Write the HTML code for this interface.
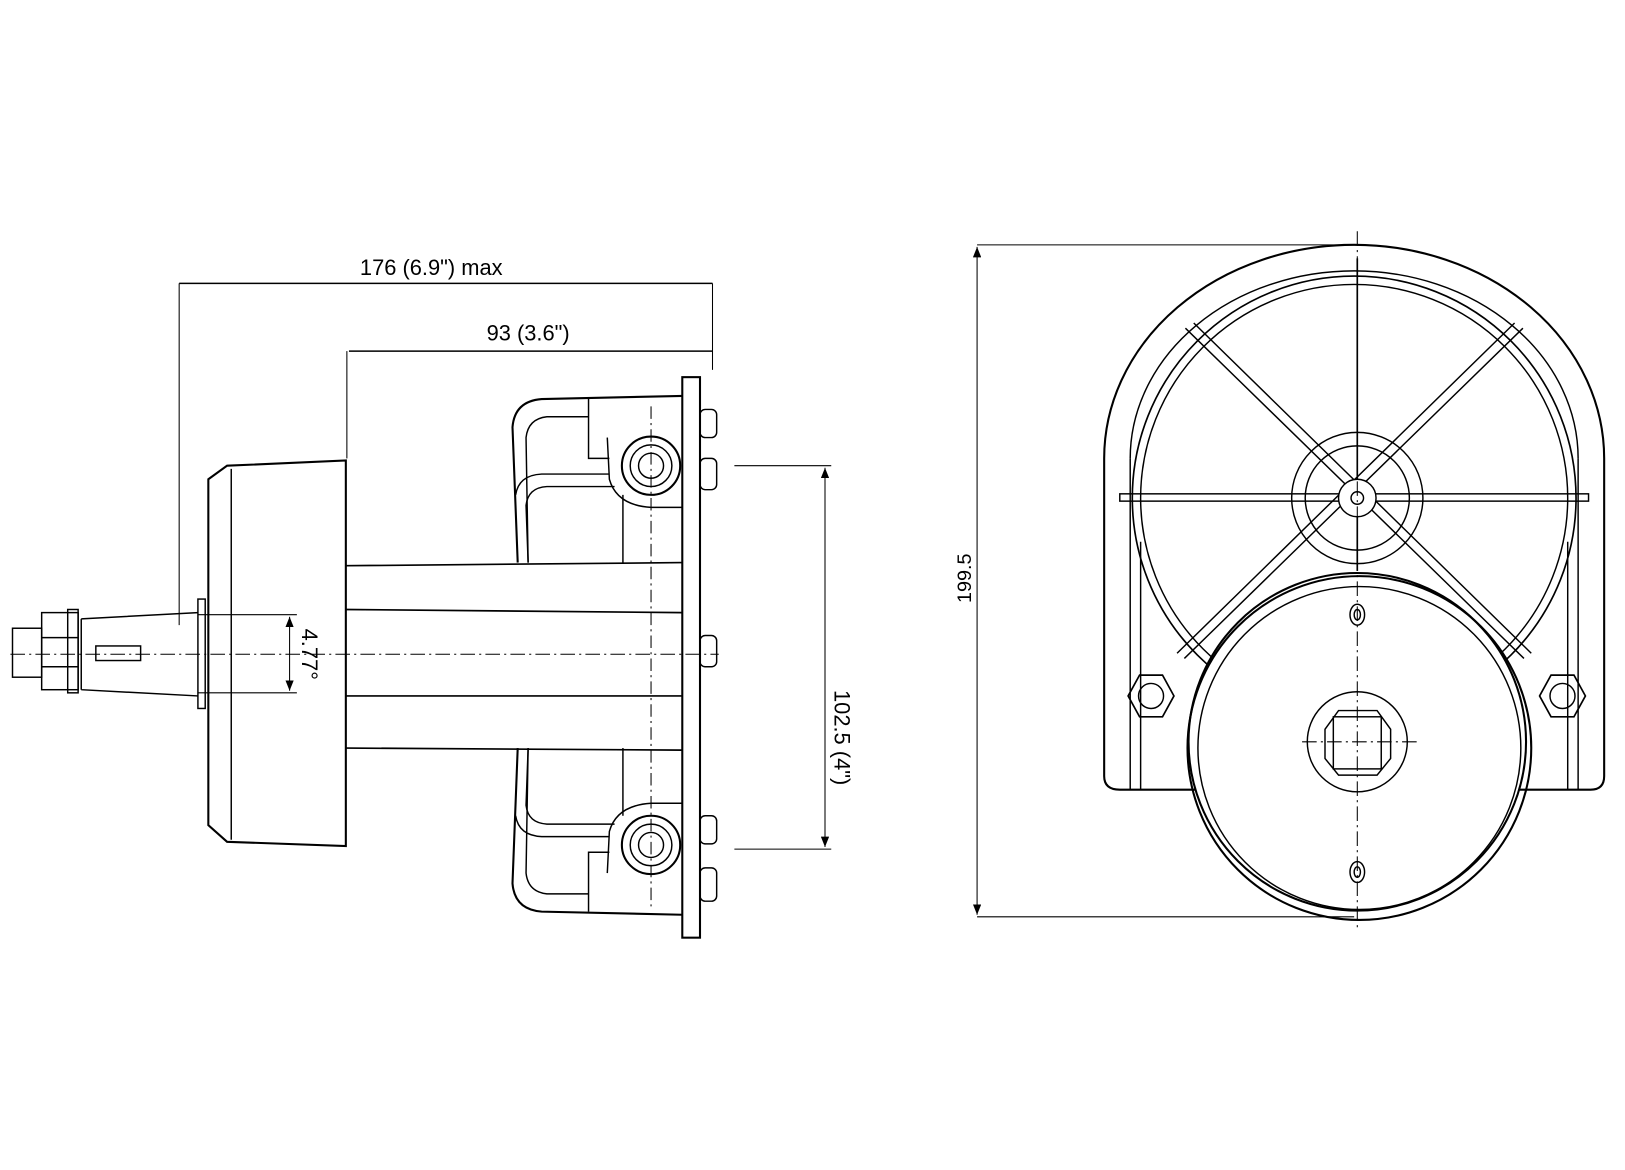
<!DOCTYPE html>
<html><head><style>html,body{margin:0;padding:0;background:#fff}svg{display:block}</style></head>
<body>
<svg width="1625" height="1170" viewBox="0 0 1560 1123" preserveAspectRatio="none" xmlns="http://www.w3.org/2000/svg" font-family="Liberation Sans, DejaVu Sans, sans-serif">
<defs>
<marker id="a" markerWidth="10" markerHeight="8" refX="10" refY="4" orient="auto-start-reverse" markerUnits="userSpaceOnUse"><path d="M0,0 L10,4 L0,8 z" fill="#000"/></marker>
</defs>
<g fill="none" stroke="#000" stroke-width="1.4">
<!-- dimensions left -->
<line x1="172" y1="272" x2="684" y2="272"/>
<line x1="172" y1="272" x2="172" y2="600" stroke-width="1"/>
<line x1="684" y1="272" x2="684" y2="355" stroke-width="1"/>
<line x1="335" y1="337" x2="684" y2="337"/>
<line x1="333" y1="337" x2="333" y2="440" stroke-width="1"/>
<!-- wheel hub -->
<path d="M200,460 L218,447 L332,442 L332,812 L218,808 L200,792 Z" stroke-width="2"/>
<line x1="222" y1="450" x2="222" y2="806"/>
<rect x="190" y="575" width="7" height="105"/>
<!-- shaft -->
<path d="M78,594 L190,588 M78,662 L190,668 M78,594 L78,662"/>
<rect x="92" y="620" width="43" height="14"/>
<rect x="40" y="588" width="35" height="74"/>
<rect x="65" y="585" width="10" height="80"/>
<rect x="12" y="603" width="28" height="47"/>
<line x1="40" y1="612" x2="75" y2="612"/><line x1="40" y1="640" x2="75" y2="640"/>
<line x1="10" y1="628" x2="690" y2="628" stroke-dasharray="14,4,2,4" stroke-width="1"/>
<!-- angle dim -->
<line x1="190" y1="590" x2="285" y2="590" stroke-width="1"/>
<line x1="190" y1="665" x2="285" y2="665" stroke-width="1"/>
<line x1="278" y1="592" x2="278" y2="663" marker-start="url(#a)" marker-end="url(#a)" stroke-width="1"/>
<!-- tube -->
<path d="M332,543 L655,540 M332,718 L655,720 M332,585 L655,588 M332,668 L655,668" stroke-width="1.6"/>
<!-- flange -->
<rect x="655" y="362" width="17" height="538" stroke-width="2"/>
<rect x="672" y="393" width="16" height="27" rx="5"/>
<rect x="672" y="440" width="16" height="30" rx="5"/>
<rect x="672" y="610" width="16" height="30" rx="5"/>
<rect x="672" y="783" width="16" height="27" rx="5"/>
<rect x="672" y="833" width="16" height="32" rx="5"/>
<!-- upper bracket -->
<g id="br">
<path d="M497,540 L492,410 Q494,385 520,383 L655,380" stroke-width="2"/>
<path d="M507,540 L505,420 Q507,402 525,400 L565,400"/>
<path d="M495,475 Q498,456 520,455 L585,455"/>
<path d="M507,540 L505,485 Q507,468 525,467 L590,467"/>
<path d="M565,383 L565,440 L585,440"/>
<path d="M598,475 L598,540"/>
<circle cx="625" cy="447" r="28" stroke-width="2"/>
<circle cx="625" cy="447" r="20"/>
<circle cx="625" cy="447" r="12"/>
<path d="M583,420 L585,460 Q592,485 625,487 L655,487"/>
</g>
<use href="#br" transform="translate(0,1258) scale(1,-1)"/>
<line x1="625" y1="390" x2="625" y2="870" stroke-dasharray="12,4,2,4" stroke-width="1"/>
<!-- dim 102.5 -->
<line x1="705" y1="447" x2="798" y2="447" stroke-width="1"/>
<line x1="705" y1="815" x2="798" y2="815" stroke-width="1"/>
<line x1="792" y1="449" x2="792" y2="813" marker-start="url(#a)" marker-end="url(#a)" stroke-width="1"/>

<!-- right view -->
<line x1="938" y1="235" x2="1300" y2="235" stroke-width="1"/>
<line x1="938" y1="880" x2="1300" y2="880" stroke-width="1"/>
<line x1="938" y1="237" x2="938" y2="878" marker-start="url(#a)" marker-end="url(#a)" stroke-width="1"/>
<path d="M1060,440 A240,205 0 0 1 1540,440 L1540,745 Q1540,758 1527,758 L1075,758 Q1060,758 1060,745 Z" stroke-width="2"/>
<path d="M1085,440 A215,180 0 0 1 1515,440" />
<line x1="1085" y1="440" x2="1085" y2="758"/><line x1="1515" y1="440" x2="1515" y2="758"/>
<line x1="1095" y1="520" x2="1095" y2="758"/><line x1="1505" y1="520" x2="1505" y2="758"/>
<circle cx="1300" cy="478" r="213" stroke-width="1.6"/>
<circle cx="1300" cy="478" r="205"/>
<rect x="1075" y="474" width="450" height="7"/>
<line x1="1303" y1="248" x2="1303" y2="548" stroke-width="1.6"/>
<path d="M1138,315 L1463,632 M1146,310 L1470,627 M1462,315 L1137,632 M1454,310 L1130,627" stroke-width="1.4"/>
<circle cx="1303" cy="478" r="63"/>
<circle cx="1303" cy="478" r="50"/>
<circle cx="1303" cy="478" r="18" fill="#fff"/>
<circle cx="1303" cy="478" r="6"/>
<!-- drum -->
<circle cx="1303" cy="712" r="162" fill="#fff" stroke-width="2"/>
<circle cx="1305" cy="718" r="165" stroke-width="2"/>
<circle cx="1305" cy="718" r="155"/>
<ellipse cx="1303" cy="590" rx="7" ry="10"/><ellipse cx="1303" cy="590" rx="3" ry="5"/>
<ellipse cx="1303" cy="837" rx="7" ry="10"/><ellipse cx="1303" cy="837" rx="3" ry="5"/>
<circle cx="1303" cy="712" r="48"/>
<path d="M1285,682 L1322,682 L1335,700 L1335,728 L1322,744 L1285,744 L1272,728 L1272,700 Z"/>
<rect x="1280" y="688" width="46" height="50"/>
<polygon points="1083,668 1094,648 1116,648 1127,668 1116,688 1094,688" stroke-width="1.6"/>
<circle cx="1105" cy="668" r="12"/>
<polygon points="1478,668 1489,648 1511,648 1522,668 1511,688 1489,688" stroke-width="1.6"/>
<circle cx="1500" cy="668" r="12"/>
<line x1="1303" y1="222" x2="1303" y2="890" stroke-dasharray="14,4,2,4" stroke-width="1"/>
<line x1="1250" y1="712" x2="1360" y2="712" stroke-dasharray="14,4,2,4" stroke-width="1"/>
</g>
<g font-size="21" fill="#000">
<text x="414" y="264" text-anchor="middle">176 (6.9") max</text>
<text x="507" y="327" text-anchor="middle">93 (3.6")</text>
<text transform="translate(290,628) rotate(90)" text-anchor="middle">4.77°</text>
<text transform="translate(801,708) rotate(90)" text-anchor="middle">102.5 (4")</text>
<text transform="translate(932,555) rotate(-90)" text-anchor="middle" font-size="19">199.5</text>
</g>
</svg>
</body></html>
